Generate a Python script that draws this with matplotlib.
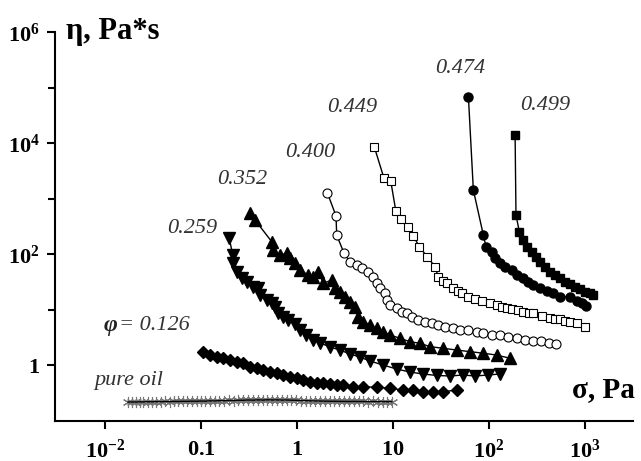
import matplotlib
matplotlib.use("Agg")
import matplotlib.pyplot as plt
from matplotlib.ticker import FixedLocator, NullFormatter

plt.rcParams['mathtext.fontset'] = 'custom'
plt.rcParams['mathtext.rm'] = 'Liberation Serif'
plt.rcParams['mathtext.bf'] = 'Liberation Serif:bold'
plt.rcParams['mathtext.it'] = 'Liberation Serif:italic'

# ---- data (stress sigma in Pa, viscosity eta in Pa*s) ----
s_499 = [187, 191, 207, 228, 251, 279, 309, 340, 383, 432, 487, 549, 619, 698, 787, 888, 1000, 1127, 1220]
e_499 = [13900, 505, 252, 179, 135, 110, 89, 73, 59, 48, 42, 36.5, 31.7, 28.8, 25.7, 23.1, 20.9, 19.6, 18.2]

s_474 = [61, 68.7, 87.3, 93, 107, 115, 130, 147, 172, 194, 228, 257, 289, 340, 399, 468, 549, 698, 820, 925, 1024]
e_474 = [68200, 1420, 220, 135, 110, 84, 68, 59, 51.5, 42, 36.5, 31.7, 27.6, 24.1, 21.8, 19.6, 17, 17, 14.4, 12.9, 11.6]

s_449 = [6.38, 8.06, 9.46, 10.7, 12.0, 14.4, 16.3, 18.8, 22.8, 27.4, 29.6, 33.0, 36.2, 42.5, 47, 52, 61, 71.5, 84,
         102, 120, 136, 155, 172, 200, 228, 258, 289, 354, 432, 490, 549, 620, 698, 820, 1000]
e_449 = [8570, 2310, 2090, 595, 422, 310, 211, 135, 89, 59, 39, 33, 29.6, 24.1, 21.5, 19.6, 17, 15.5, 14.4,
         12.9, 12.1, 11.2, 10.6, 10.1, 9.6, 9.1, 8.8, 8.5, 7.6, 6.9, 6.8, 6.65, 6.3, 6.0, 5.6, 4.8]

s_400 = [2.07, 2.55, 2.59, 3.09, 3.56, 4.19, 4.72, 5.53, 6.24, 6.77, 7.33, 8.26, 8.6, 9.31, 10.9, 12.3, 13.9,
         15.7, 18.4, 21.5, 25.3, 29.6, 34.8, 42.5, 49.9, 60.8, 74.5, 87.3, 107, 130, 159, 194, 237, 289, 348,
         422, 499]
e_400 = [1270, 484, 220, 103, 72.6, 63.4, 55.2, 48, 39, 29.6, 24.1, 19.6, 14.8, 12.1, 10.5, 9.1, 8.55,
         7.42, 6.47, 6.03, 5.64, 5.26, 4.9, 4.58, 4.27, 4.27, 3.98, 3.72, 3.47, 3.47, 3.24, 3.03, 2.82, 2.76, 2.71,
         2.54, 2.39]

s_352 = [0.324, 0.365, 0.545, 0.566, 0.665, 0.782, 0.846, 0.953, 1.07, 1.31, 1.48, 1.67, 1.88, 2.30, 2.49, 2.80,
         3.16, 3.56, 4.02, 4.35, 4.91, 5.75, 6.77, 7.92, 9.31, 11.8, 15.0, 19.1, 24.3, 33.4, 46, 63.4, 87.3,
         120, 166]
e_352 = [541, 410, 167, 118, 96, 103, 84, 68, 51.5, 41.9, 39, 48, 29.6, 34, 24.1, 20.9,
         17, 13.6, 11.1, 7.4, 6.03, 5.26, 4.58, 3.98, 3.47, 3.03, 2.63, 2.46, 2.14, 2.0, 1.86, 1.74, 1.63,
         1.51, 1.32]

s_259 = [0.197, 0.214, 0.217, 0.236, 0.266, 0.299, 0.351, 0.395, 0.412, 0.483, 0.545, 0.590, 0.638, 0.720,
         0.811, 0.953, 1.07, 1.24, 1.47, 1.74, 2.21, 2.80, 3.56, 4.53, 5.75, 7.87, 10.9, 15.0, 20.5, 28.7,
         39.3, 53.6, 71.5, 97.7, 130]
e_259 = [192, 96, 68, 48, 36.5, 31.7, 25.8, 24.1, 18.2, 14.8, 12.9, 11.2, 8.55, 7.4,
         6.47, 5.48, 4.27, 3.47, 2.82, 2.49, 2.11, 1.86, 1.58, 1.39, 1.18, 1.0, 0.847, 0.748, 0.689, 0.647,
         0.634, 0.66, 0.634, 0.66, 0.689]

s_126 = [0.106, 0.124, 0.146, 0.171, 0.200, 0.236, 0.276, 0.324, 0.380, 0.446, 0.524, 0.615, 0.72, 0.846,
         0.993, 1.16, 1.37, 1.60, 1.88, 2.21, 2.59, 3.03, 3.86, 4.91, 6.77, 9.31, 12.8, 16.3, 20.7, 26.3,
         33.4, 46]
e_126 = [1.74, 1.51, 1.41, 1.32, 1.23, 1.15, 1.07, 0.93, 0.87, 0.81, 0.76, 0.71, 0.66, 0.615,
         0.575, 0.537, 0.50, 0.48, 0.468, 0.449, 0.436, 0.436, 0.406, 0.406, 0.396, 0.38, 0.355, 0.355, 0.33,
         0.33, 0.33, 0.355]

s_oil = [0.0174, 0.019, 0.021, 0.023, 0.025, 0.028, 0.031, 0.034, 0.038, 0.042, 0.047, 0.052, 0.058, 0.065,
         0.072, 0.08, 0.09, 0.1, 0.11, 0.125, 0.14, 0.155, 0.175, 0.195, 0.22, 0.245, 0.275, 0.31, 0.345, 0.39,
         0.44, 0.49, 0.55, 0.62, 0.7, 0.78, 0.87, 0.98, 1.1, 1.23, 1.38, 1.55, 1.75, 1.95, 2.2, 2.45, 2.75,
         3.1, 3.5, 3.9, 4.4, 4.9, 5.5, 6.2, 7.0, 7.8, 8.7, 9.7]
e_oil = [0.215, 0.216, 0.215, 0.217, 0.216, 0.218, 0.217, 0.219, 0.218, 0.22, 0.219, 0.221, 0.22, 0.222,
         0.221, 0.223, 0.222, 0.224, 0.223, 0.226, 0.225, 0.228, 0.227, 0.23, 0.229, 0.232, 0.231, 0.234, 0.232,
         0.235, 0.233, 0.236, 0.234, 0.235, 0.233, 0.234, 0.232, 0.231, 0.229, 0.228, 0.226, 0.225, 0.224,
         0.223, 0.222, 0.222, 0.221, 0.221, 0.22, 0.221, 0.22, 0.22, 0.219, 0.22, 0.219, 0.219, 0.218, 0.218]

x_ticks = [1e-2, 1e-1, 1, 10, 1e2, 1e3]
x_ticklabels = [r'$\mathbf{10^{-2}}$', r'$\mathbf{0.1}$', r'$\mathbf{1}$', r'$\mathbf{10}$',
                r'$\mathbf{10^{2}}$', r'$\mathbf{10^{3}}$']
y_ticks = [1, 1e2, 1e4, 1e6]
y_ticklabels = [r'$\mathbf{1}$', r'$\mathbf{10^{2}}$', r'$\mathbf{10^{4}}$', r'$\mathbf{10^{6}}$']
y_minor = [10, 1e3, 1e5]

W, H = 641, 461
fig = plt.figure(figsize=(W / 100, H / 100), dpi=100)
ax = fig.add_axes([55 / W, (H - 421) / H, (633 - 55) / W, (421 - 32) / H])
ax.set_xscale('log')
ax.set_yscale('log')
ax.set_xlim(10 ** -2.521, 10 ** 3.5)
ax.set_ylim(10 ** -1.009, 1e6)

lw = 1.0
ax.plot(s_oil, e_oil, color='black', lw=lw, zorder=3)
ax.plot(s_oil, e_oil, ls='none', marker=(6, 2, 0), ms=8, mec='#777777', mew=0.8, zorder=2)
ax.plot(s_126, e_126, color='black', lw=lw, marker='D', ms=6.5, mfc='black', mec='black')
ax.plot(s_259, e_259, color='black', lw=lw, marker='v', ms=8, mfc='black', mec='black')
ax.plot(s_352, e_352, color='black', lw=lw, marker='^', ms=8, mfc='black', mec='black')
ax.plot(s_400, e_400, color='black', lw=lw, marker='o', ms=6.5, mfc='white', mec='black', mew=0.8)
ax.plot(s_449, e_449, color='black', lw=lw, marker='s', ms=6, mfc='white', mec='black', mew=0.8)
ax.plot(s_474, e_474, color='black', lw=lw, marker='o', ms=6.5, mfc='black', mec='black')
ax.plot(s_499, e_499, color='black', lw=lw, marker='s', ms=6, mfc='black', mec='black')

for sp in ['top', 'right']:
    ax.spines[sp].set_visible(False)
for sp in ['left', 'bottom']:
    ax.spines[sp].set_linewidth(1.5)

ax.xaxis.set_major_locator(FixedLocator(x_ticks))
ax.set_xticklabels(x_ticklabels)
ax.xaxis.set_minor_locator(FixedLocator([]))
ax.yaxis.set_major_locator(FixedLocator(y_ticks))
ax.set_yticklabels(y_ticklabels)
ax.yaxis.set_minor_locator(FixedLocator(y_minor))
ax.yaxis.set_minor_formatter(NullFormatter())
ax.tick_params(axis='both', which='major', direction='out', length=6, width=1.5, labelsize=16, pad=5)
ax.tick_params(axis='y', which='minor', direction='out', length=5, width=1.5)
ax.tick_params(axis='x', which='major', pad=7)

def ftext(px, py, s, **kw):
    fig.text(px / W, 1 - py / H, s, **kw)

lab = dict(family='Liberation Serif', style='italic', fontsize=16, color='#333333', ha='center', va='center')
ftext(129, 380, 'pure oil', **lab)
ftext(104, 326, 'φ', family='Liberation Serif', style='italic', fontweight='bold', fontsize=17,
      color='#222222', ha='left', va='center')
ftext(119, 325, '= 0.126', family='Liberation Serif', style='italic', fontsize=16, color='#333333',
      ha='left', va='center')
ftext(192, 228, '0.259', **lab)
ftext(242, 180, '0.352', **lab)
ftext(310, 152, '0.400', **lab)
ftext(352, 107, '0.449', **lab)
ftext(460, 68, '0.474', **lab)
ftext(545, 105, '0.499', **lab)

ftext(66, 32, 'η, Pa*s', family='Liberation Serif', fontweight='bold', fontsize=22, ha='left', va='center')
ftext(572, 390, 'σ, Pa', family='Liberation Serif', fontweight='bold', fontsize=21, ha='left', va='center')

fig.savefig('out.png', dpi=100)
